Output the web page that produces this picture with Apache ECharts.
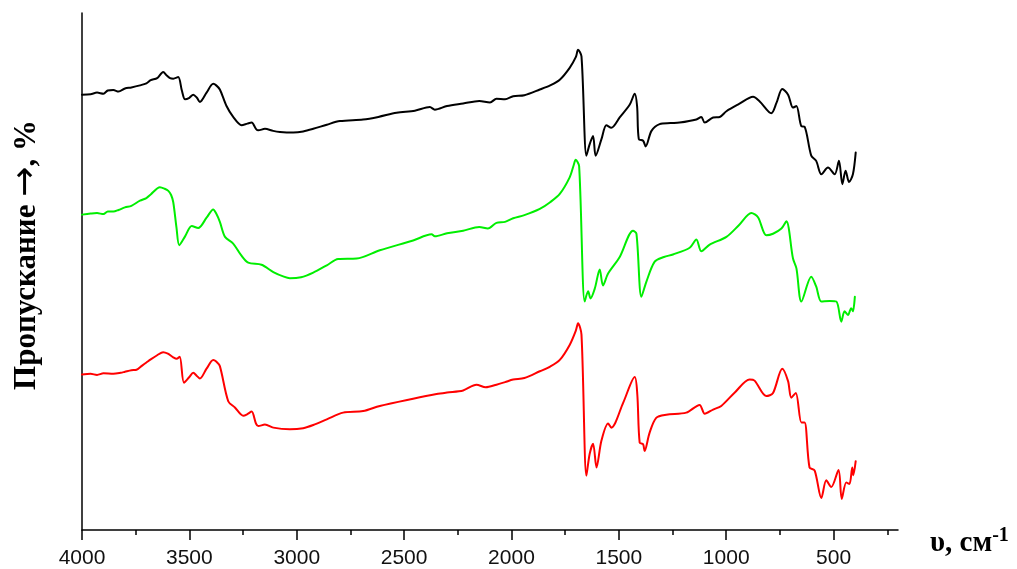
<!DOCTYPE html>
<html>
<head>
<meta charset="utf-8">
<title>ИК-спектры пропускания</title>
<script src="https://cdn.jsdelivr.net/npm/echarts@6/dist/echarts.min.js"></script>
<style>
  html, body { margin: 0; padding: 0; background: #fff; }
  #chart { width: 1017px; height: 569px; }
</style>
</head>
<body>
<div id="chart"></div>
<script>
// Wavenumbers (cm^-1) and transmittance (arbitrary offset %, stacked spectra)
const blackWn = [4000,3960,3930,3900,3880,3854,3830,3800,3770,3730,3700,3680,3650,3622,3605,3590,3575,3552,3535,3520,3500,3482,3465,3451,3420,3389,3375,3358,3327,3296,3257,3230,3210,3190,3179,3148,3110,3078,3016,2970,2923,2860,2799,2691,2620,2535,2450,2380,2357,2300,2225,2150,2100,2070,2030,1992,1940,1868,1820,1775,1729,1700,1690,1674,1651,1636,1620,1608,1581,1558,1535,1496,1449,1426,1415,1407,1387,1375,1348,1310,1260,1217,1139,1116,1100,1061,1030,999,940,875,844,790,766,739,712,689,673,650,635,604,581,557,526,495,475,459,444,428,410,397];
const blackT  = [84.2,84.3,84.6,84.4,85.0,85.1,84.8,85.4,85.6,86.0,86.4,87.0,87.4,88.6,87.9,87.4,87.3,87.6,85.0,83.3,83.6,84.2,83.6,82.8,84.6,86.3,86.0,85.2,82.0,79.9,78.3,78.6,78.8,77.6,77.3,77.6,77.2,77.0,76.9,77.1,77.6,78.4,79.1,79.4,79.9,80.7,81.1,81.8,81.3,82.0,82.5,83.0,82.7,83.4,83.3,83.9,84.1,85.2,86.0,87.1,89.4,91.5,92.9,91.6,72.4,74.6,76.2,72.4,75.6,78.3,77.8,79.8,82.3,84.4,82.0,75.6,75.3,74.2,77.2,78.5,78.7,78.8,79.4,79.9,78.8,79.8,79.9,81.0,82.4,83.8,82.9,80.6,82.6,85.3,84.2,81.7,82.0,78.1,78.0,72.4,71.4,68.8,70.1,68.8,71.4,66.9,69.5,67.3,68.8,73.0];

const greenWn = [4000,3960,3930,3900,3880,3854,3830,3800,3770,3730,3700,3680,3637,3615,3598,3585,3575,3560,3547,3520,3489,3459,3420,3389,3375,3358,3334,3296,3260,3226,3164,3109,3060,3032,2980,2923,2860,2807,2721,2613,2458,2372,2357,2300,2225,2150,2110,2070,2030,1992,1940,1868,1820,1775,1729,1710,1701,1685,1659,1643,1632,1612,1589,1574,1550,1496,1434,1418,1395,1372,1333,1290,1248,1170,1139,1116,1077,999,940,883,852,813,782,743,720,689,673,650,604,581,557,518,487,464,449,433,418,410,401];
const greenT  = [61.0,61.2,61.3,61.1,61.6,61.6,61.9,62.4,62.7,63.7,64.2,64.9,66.3,66.0,65.6,64.8,63.4,58.5,55.1,56.8,58.8,58.4,60.4,62.0,61.2,59.6,56.7,55.4,53.2,51.7,51.3,49.9,49.0,48.7,48.9,49.8,51.2,52.4,52.5,54.1,56.0,57.2,56.8,57.4,57.9,58.6,58.3,59.4,59.6,60.3,60.9,62.1,63.4,65.0,68.2,70.6,71.6,70.4,44.2,46.2,44.8,46.7,50.4,47.3,49.6,52.8,57.9,57.3,45.1,48.0,51.9,52.8,53.3,54.6,56.2,53.9,55.2,56.7,59.0,61.3,60.5,57.0,57.3,58.3,59.7,52.5,50.6,44.2,49.0,47.1,44.2,44.3,44.2,40.3,42.3,41.6,42.9,42.3,45.1];

const redWn = [4000,3960,3930,3900,3854,3820,3800,3770,3746,3720,3700,3680,3650,3622,3600,3575,3560,3545,3525,3500,3482,3465,3451,3420,3389,3375,3358,3319,3288,3249,3230,3210,3190,3179,3148,3109,3032,2970,2923,2860,2784,2691,2613,2458,2349,2300,2225,2163,2120,2070,2030,1992,1940,1868,1820,1775,1729,1700,1690,1674,1651,1636,1620,1604,1581,1550,1535,1480,1426,1414,1403,1387,1380,1357,1326,1279,1186,1124,1100,1061,1023,960,891,868,813,782,739,712,697,676,650,635,612,588,557,534,511,477,462,441,426,413,408,397];
const redT  = [30.1,30.2,30.0,30.3,30.2,30.4,30.6,30.9,31.0,31.8,32.4,33.0,33.8,34.4,34.1,33.4,33.1,33.5,28.5,29.6,30.4,29.8,29.3,31.2,32.9,32.6,31.7,24.9,23.7,22.1,22.4,22.9,20.6,20.1,20.4,19.8,19.5,19.7,20.3,21.4,22.7,23.0,24.0,25.4,26.3,26.6,27.0,28.1,27.6,28.1,28.6,29.1,29.4,30.7,31.6,32.9,35.8,38.6,40.0,37.8,10.5,14.7,16.7,12.1,17.3,20.6,19.8,24.6,29.6,26.2,16.9,16.6,15.3,18.8,21.7,22.3,22.7,24.2,22.5,23.3,24.0,26.6,29.1,28.9,25.9,26.5,31.2,28.8,25.6,26.5,20.8,20.8,12.1,11.5,6.2,9.6,8.3,11.6,6.0,9.2,8.9,12.1,10.6,13.3];

// Axis tick positions
const majorTicks = [4000, 3500, 3000, 2500, 2000, 1500, 1000, 500];
const minorTicks = [3750, 3250, 2750, 2250, 1750, 1250, 750, 250];

const toPairs = (xs, ys) => xs.map((x, i) => [x, ys[i]]);

const chart = echarts.init(document.getElementById('chart'), null, { renderer: 'canvas' });

const xBase = {
  type: 'value',
  inverse: true,
  min: 200,
  max: 4000,
  splitLine: { show: false }
};

const seriesStyle = (color) => ({
  type: 'line',
  xAxisIndex: 0,
  showSymbol: false,
  symbol: 'none',
  smooth: 0.3,
  lineStyle: { color: color, width: 2, join: 'round', cap: 'round' },
  animation: false
});

const serif = 'Liberation Serif, Times New Roman, serif';

chart.setOption({
  backgroundColor: '#ffffff',
  animation: false,
  grid: { left: 82, right: 119, top: 13, bottom: 36, containLabel: false },
  xAxis: [
    Object.assign({}, xBase, {
      position: 'bottom',
      axisLine: { show: true, onZero: false, lineStyle: { color: '#000', width: 1.5 } },
      axisTick: { show: true, length: 10, lineStyle: { color: '#000', width: 1.5 }, customValues: majorTicks },
      axisLabel: {
        show: true, margin: 18, customValues: majorTicks,
        formatter: (v) => String(v),
        color: '#111', fontSize: 21, fontFamily: 'Liberation Sans, Arial, sans-serif'
      }
    }),
    Object.assign({}, xBase, {
      position: 'bottom',
      axisLine: { show: false, onZero: false },
      axisTick: { show: true, length: 5, lineStyle: { color: '#000', width: 1.5 }, customValues: minorTicks },
      axisLabel: { show: false }
    })
  ],
  yAxis: {
    type: 'value',
    min: 0,
    max: 100,
    axisLine: { show: true, onZero: false, lineStyle: { color: '#000', width: 1.5 } },
    axisTick: { show: false },
    axisLabel: { show: false },
    splitLine: { show: false }
  },
  graphic: [
    {
      type: 'text',
      x: 27, y: 255,
      rotation: Math.PI / 2,
      style: {
        text: '{t|Пропускание }{arr|→}{t|, %}',
        align: 'center',
        verticalAlign: 'middle',
        rich: {
          t: { fontFamily: serif, fontWeight: 'bold', fontSize: 31, fill: '#000' },
          arr: { fontFamily: 'DejaVu Sans', fontWeight: 'normal', fontSize: 36, fill: '#000' }
        }
      }
    },
    {
      type: 'text',
      left: 930, top: 526,
      style: {
        text: '{a|υ, см}{b|-1}',
        rich: {
          a: { fontFamily: serif, fontWeight: 'bold', fontSize: 29, fill: '#000', verticalAlign: 'bottom' },
          b: { fontFamily: serif, fontWeight: 'bold', fontSize: 20, fill: '#000', verticalAlign: 'top', padding: [0, 0, 12, 0] }
        }
      }
    }
  ],
  series: [
    Object.assign(seriesStyle('#000000'), { name: 'black', data: toPairs(blackWn, blackT) }),
    Object.assign(seriesStyle('#00ee00'), { name: 'green', data: toPairs(greenWn, greenT) }),
    Object.assign(seriesStyle('#ff0000'), { name: 'red', data: toPairs(redWn, redT) })
  ]
});
</script>
</body>
</html>
